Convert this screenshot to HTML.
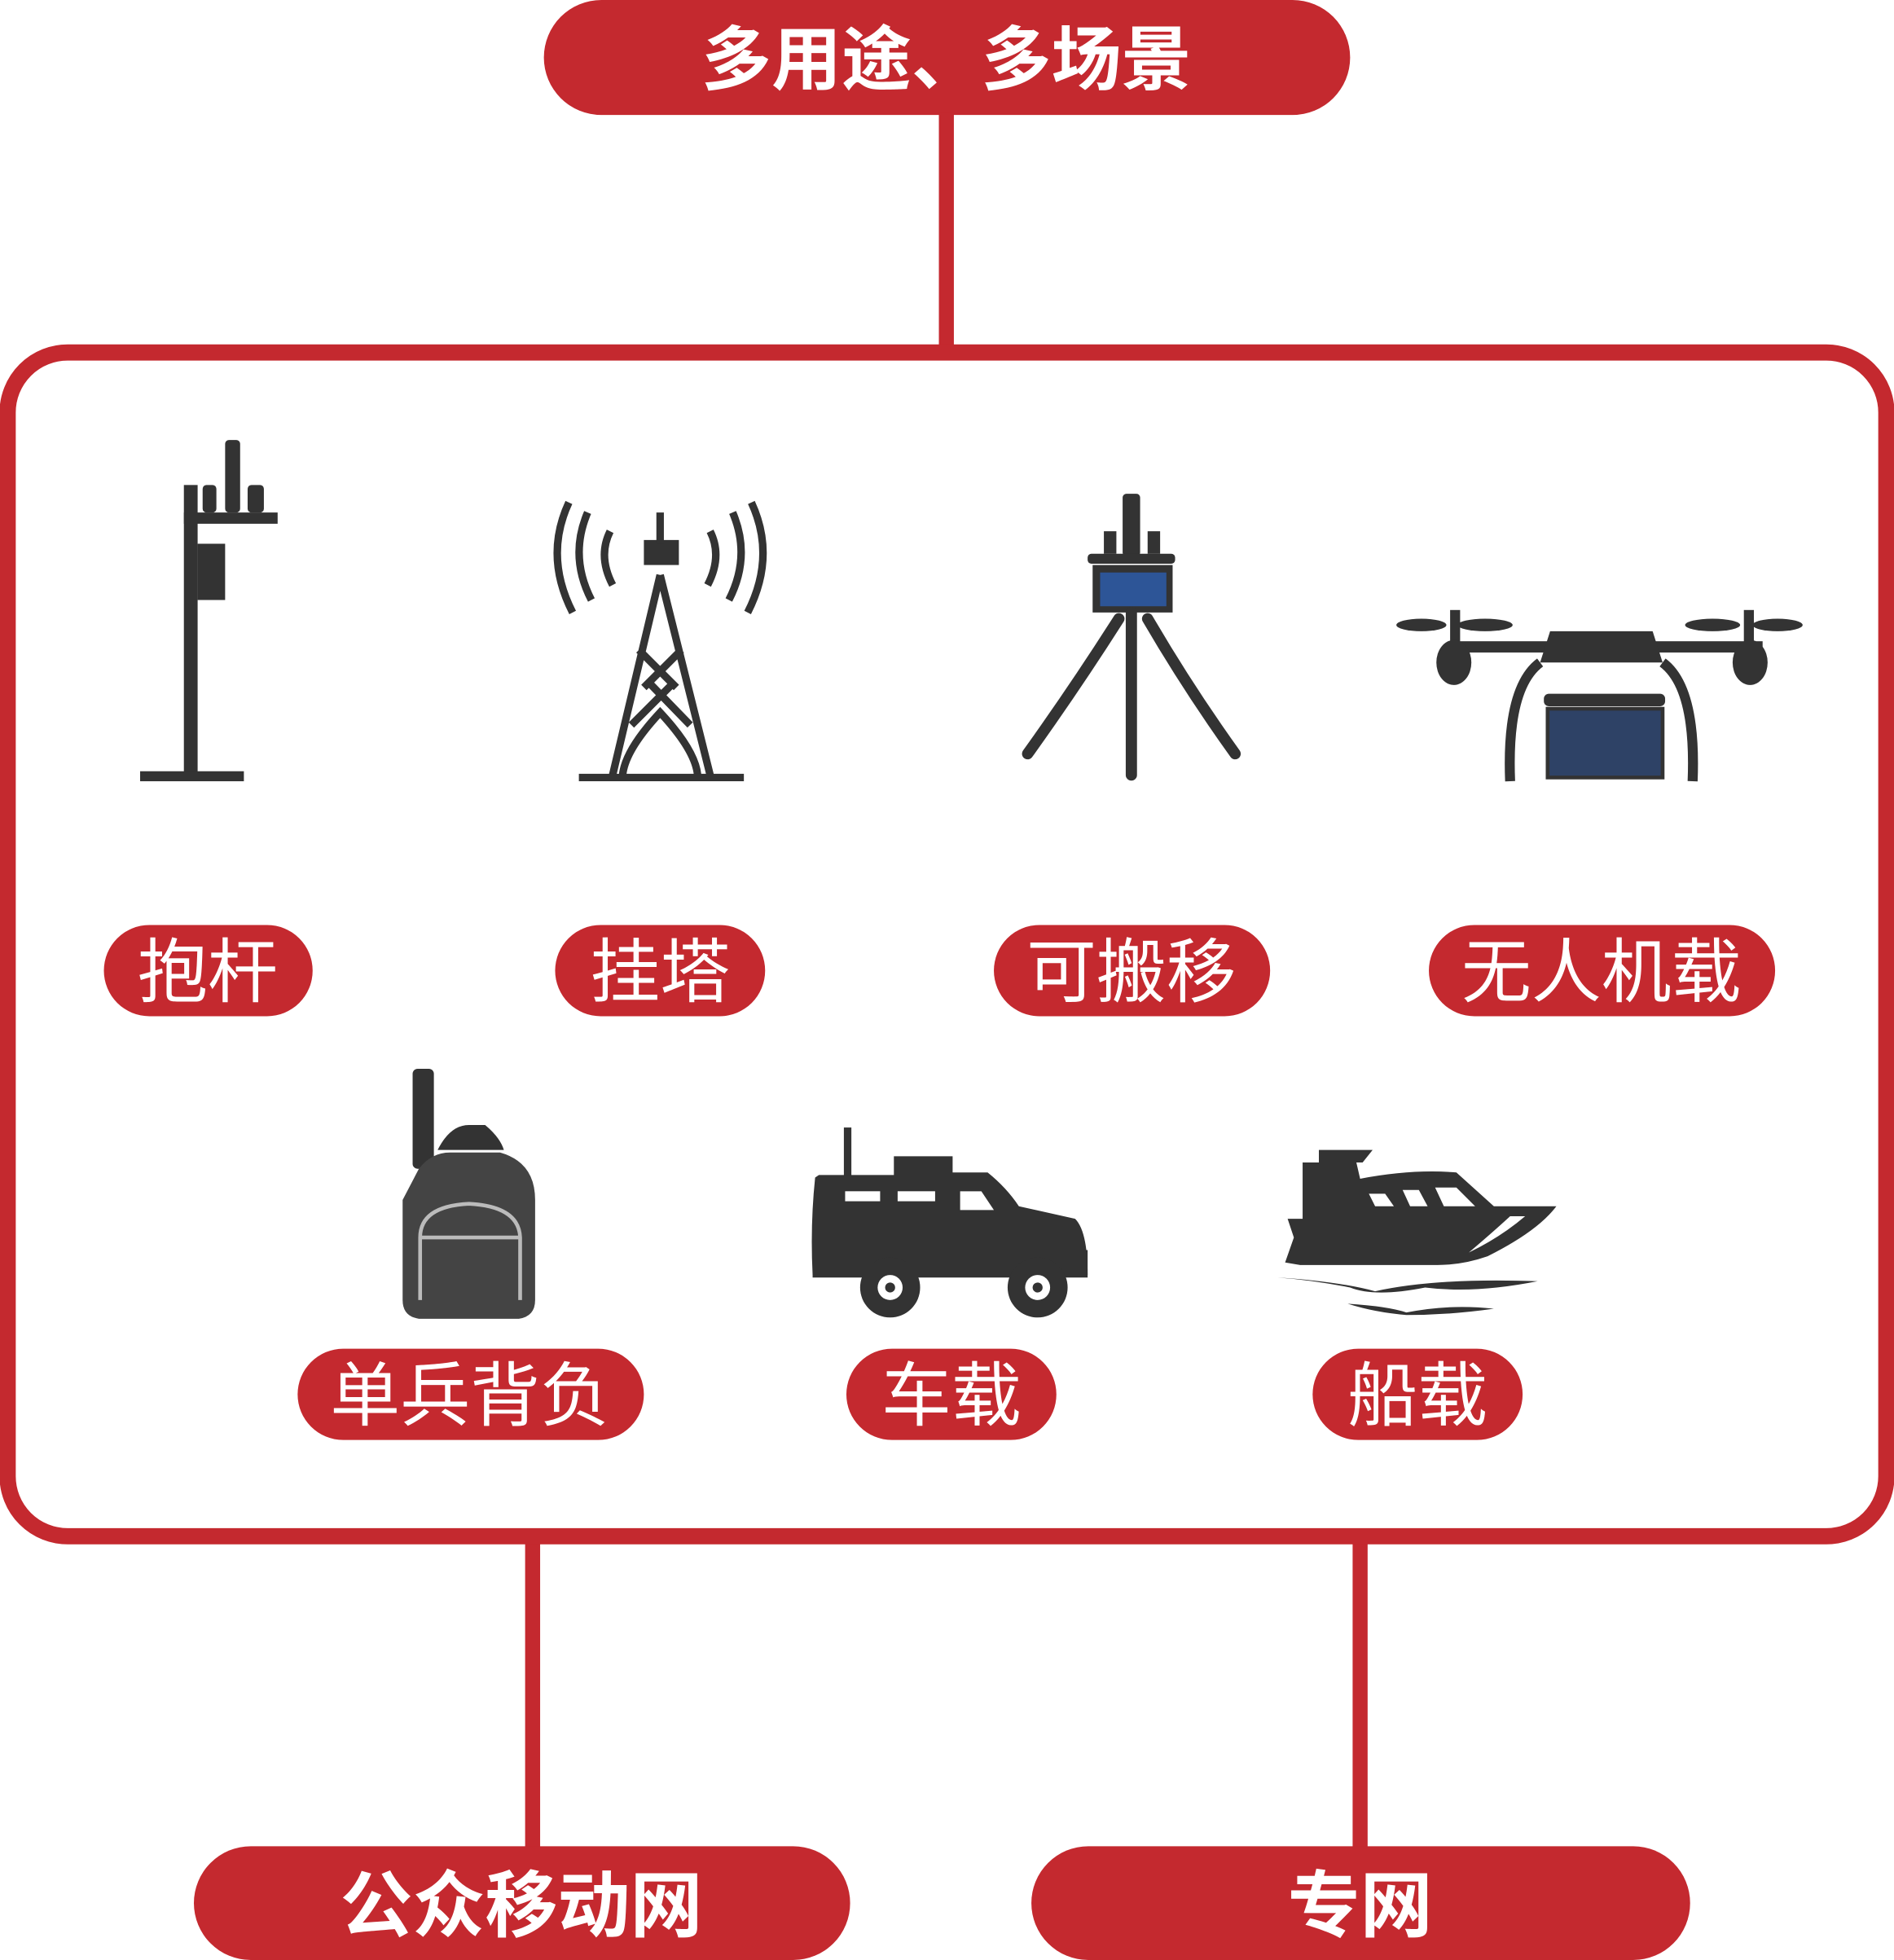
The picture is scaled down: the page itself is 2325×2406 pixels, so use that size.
<!DOCTYPE html>
<html><head><meta charset="utf-8"><style>
html,body{margin:0;padding:0;background:#fff;}
svg{display:block;}
.t{font-family:"Liberation Sans","Noto Sans CJK SC",sans-serif;fill:#fff;text-anchor:middle;}
</style></head><body>
<svg width="2325" height="2406" viewBox="0 0 1515 1568" xmlns="http://www.w3.org/2000/svg">
<g fill="#c4292f">
<rect x="435" y="0" width="645" height="92" rx="46"/>
<rect x="751" y="90" width="12" height="192"/>
<rect x="420" y="1230" width="12" height="250"/>
<rect x="1082" y="1230" width="12" height="250"/>
<rect x="155" y="1477" width="525" height="91" rx="45.5"/>
<rect x="825" y="1477" width="527" height="91" rx="45.5"/>
<rect x="83" y="740" width="167" height="73" rx="36.5"/>
<rect x="444" y="740" width="168" height="73" rx="36.5"/>
<rect x="795" y="740" width="221" height="73" rx="36.5"/>
<rect x="1143" y="740" width="277" height="73" rx="36.5"/>
<rect x="238" y="1079" width="277" height="73" rx="36.5"/>
<rect x="677" y="1079" width="168" height="73" rx="36.5"/>
<rect x="1050" y="1079" width="168" height="73" rx="36.5"/>
</g>
<rect x="6" y="282" width="1503" height="947" rx="48" fill="none" stroke="#c4292f" stroke-width="13"/>
<text class="t" x="757" y="67" font-size="56" font-weight="bold">多用途、多场景</text>
<text class="t" x="417" y="1545" font-size="58" font-weight="bold">公众移动网</text>
<text class="t" x="1088" y="1545" font-size="58" font-weight="bold">专网</text>
<g font-size="56">
<text class="t" x="166" y="797">抱杆</text>
<text class="t" x="528" y="797">挂塔</text>
<text class="t" x="905" y="797">可搬移</text>
<text class="t" x="1281" y="797">无人机载</text>
<text class="t" x="376" y="1136">单兵背负</text>
<text class="t" x="761" y="1136">车载</text>
<text class="t" x="1134" y="1136">船载</text>
</g>
<g fill="#333" stroke="#333">
<!-- pole -->
<rect x="147" y="388" width="11" height="232" stroke="none"/>
<rect x="112" y="617" width="83" height="8" stroke="none"/>
<rect x="147" y="410" width="75" height="9" stroke="none"/>
<rect x="158" y="435" width="22" height="45" stroke="none"/>
<rect x="162" y="388" width="11" height="22" rx="3" stroke="none"/>
<rect x="180" y="352" width="12" height="58" rx="3" stroke="none"/>
<rect x="198" y="388" width="13" height="22" rx="3" stroke="none"/>
<!-- tower -->
<g fill="none" stroke-width="6">
<path d="M528 460 L490 620 M528 460 L568 620 M515 550 L545 520 M541 550 L511 520 M505 580 L540 545 M552 580 L518 545 M498 620 Q500 600 528 570 Q556 600 558 620"/>
<path d="M463 622 H595"/>
<path d="M488 425 Q478 445 490 468 M470 410 Q455 445 473 480 M455 402 Q435 445 458 490"/>
<path d="M568 425 Q578 445 566 468 M586 410 Q601 445 583 480 M601 402 Q621 445 598 490"/>
</g>
<rect x="515" y="432" width="28" height="20" stroke="none"/>
<rect x="525" y="410" width="6" height="25" stroke="none"/>
<!-- tripod -->
<rect x="898" y="395" width="14" height="50" rx="3" stroke="none"/>
<rect x="883" y="425" width="10" height="18" stroke="none"/>
<rect x="918" y="425" width="10" height="18" stroke="none"/>
<rect x="870" y="443" width="70" height="8" rx="3" stroke="none"/>
<rect x="874" y="452" width="64" height="38" stroke="none"/>
<rect x="880" y="458" width="53" height="27" fill="#2d5597" stroke="none"/>
<g fill="none" stroke-width="9" stroke-linecap="round">
<path d="M905 490 V620 M895 495 Q860 550 822 603 M918 495 Q950 550 988 603"/>
</g>
<!-- drone -->
<rect x="1160" y="513" width="250" height="9" stroke="none"/>
<path d="M1240 505 H1322 L1330 530 H1232 Z" stroke="none"/>
<ellipse cx="1137" cy="500" rx="20" ry="5" stroke="none"/>
<ellipse cx="1188" cy="500" rx="22" ry="5" stroke="none"/>
<ellipse cx="1370" cy="500" rx="22" ry="5" stroke="none"/>
<ellipse cx="1422" cy="500" rx="20" ry="5" stroke="none"/>
<rect x="1160" y="488" width="8" height="30" stroke="none"/>
<rect x="1395" y="488" width="8" height="30" stroke="none"/>
<ellipse cx="1163" cy="530" rx="14" ry="18" stroke="none"/>
<ellipse cx="1400" cy="530" rx="14" ry="18" stroke="none"/>
<path d="M1232 530 Q1205 550 1208 625 M1330 530 Q1357 550 1354 625" fill="none" stroke-width="8"/>
<rect x="1235" y="555" width="97" height="10" rx="4" stroke="none"/>
<rect x="1238" y="567" width="92" height="55" fill="#2e4266" stroke="#333" stroke-width="3"/>
<!-- backpack -->
<rect x="330" y="855" width="17" height="80" rx="4" stroke="none"/>
<path d="M350 920 Q360 900 375 900 H388 Q400 910 403 920 Z" stroke="none"/>
<path d="M335 935 Q345 922 360 922 H400 Q428 930 428 960 V1040 Q428 1053 415 1055 H335 Q322 1053 322 1040 V960 Z" fill="#444" stroke="none"/>
<path d="M336 1040 V990 Q336 965 375 963 Q415 965 416 990 V1040 M336 990 H416" fill="none" stroke="#bbb" stroke-width="3"/>
<!-- car -->
<rect x="675" y="902" width="6" height="40" stroke="none"/>
<path d="M655 940 H715 V925 H762 V938 H790 Q805 950 815 965 L860 975 Q870 985 870 1020 H650 Q648 980 652 942 Z" stroke="none"/>
<path d="M650 1000 H870 V1022 H650 Z" stroke="none"/>
<rect x="676" y="953" width="28" height="8" fill="#fff" stroke="none"/>
<rect x="718" y="953" width="30" height="8" fill="#fff" stroke="none"/>
<path d="M768 953 H785 L795 968 H768 Z" fill="#fff" stroke="none"/>
<circle cx="712" cy="1030" r="24" stroke="none"/><circle cx="712" cy="1030" r="10" fill="#fff" stroke="none"/><circle cx="712" cy="1030" r="4" stroke="none"/>
<circle cx="830" cy="1030" r="24" stroke="none"/><circle cx="830" cy="1030" r="10" fill="#fff" stroke="none"/><circle cx="830" cy="1030" r="4" stroke="none"/>
<!-- boat -->
<path d="M1055 920 H1098 L1090 930 H1085 L1088 943 Q1130 935 1165 938 L1195 965 H1245 Q1230 985 1190 1005 Q1170 1012 1150 1012 H1040 L1028 1010 L1035 990 L1030 975 H1042 V930 H1055 Z" stroke="none"/>
<path d="M1095 955 H1108 L1115 965 H1100 Z M1122 952 H1135 L1142 965 H1128 Z M1148 950 H1165 L1180 965 H1155 Z" fill="#fff" stroke="none"/>
<path d="M1208 973 H1220 Q1200 990 1175 1002 Q1195 985 1208 973 Z" fill="#fff" stroke="none"/>
<path d="M1022 1022 Q1070 1025 1100 1033 Q1150 1022 1230 1025 Q1180 1035 1140 1030 Q1100 1038 1080 1030 Q1050 1024 1022 1022 Z" stroke="none"/>
<path d="M1078 1043 Q1110 1045 1125 1050 Q1160 1043 1195 1047 Q1160 1052 1125 1052 Q1100 1050 1078 1043 Z" stroke="none"/>
</g>
</svg>
</body></html>
